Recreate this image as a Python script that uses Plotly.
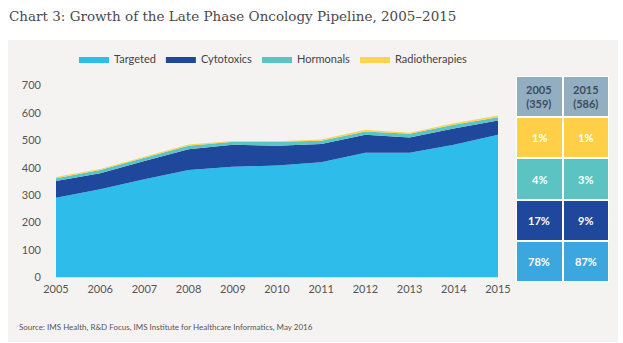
import plotly.graph_objects as go

W, H = 623, 343

years = [2005, 2006, 2007, 2008, 2009, 2010, 2011, 2012, 2013, 2014, 2015]
targeted = [291, 322, 358, 392, 404, 408, 420, 455, 455, 484, 520]
cytotoxics = [61, 58, 67, 76, 80, 72, 67, 65, 55, 59, 52]
hormonals = [10, 12, 12, 12, 11, 15, 12, 12, 14, 14, 12]
radiotherapies = [4, 4, 3, 5, 3, 2, 4, 7, 4, 5, 7]

series_names = ["Targeted", "Cytotoxics", "Hormonals", "Radiotherapies"]
series_colors = ["#2ebdeb", "#1f489d", "#5bc5c3", "#fdd34f"]

# summary table (rows from bottom to top)
table_cols = ["Y2005", "Y2015"]
table_header = ["2005<br>(359)", "2015<br>(586)"]
table_rows = ["Targeted", "Cytotoxics", "Hormonals", "Radiotherapies", "Total"]
share_2005 = ["78%", "17%", "4%", "1%"]
share_2015 = ["87%", "9%", "3%", "1%"]
row_colors = ["#3ca7de", "#1f489d", "#5bc4c2", "#fecf47", "#94aec1"]

def px(x):
    return x / W

def py(y):
    return 1 - y / H

fig = go.Figure()
for name, vals, col in zip(series_names, [targeted, cytotoxics, hormonals, radiotherapies], series_colors):
    fig.add_trace(go.Scatter(
        x=years, y=vals, name=name, stackgroup="one",
        mode="lines", line=dict(width=0, color=col), fillcolor=col,
        hoverinfo="x+y+name",
    ))

z = [[i, i] for i in range(len(table_rows))]
n = len(row_colors) - 1
colorscale = [[i / n, c] for i, c in enumerate(row_colors)]
fig.add_trace(go.Heatmap(
    x=table_cols, y=table_rows, z=z, zmin=0, zmax=n, colorscale=colorscale,
    showscale=False, xgap=2, ygap=2, xaxis="x2", yaxis="y2", hoverinfo="skip",
    showlegend=False,
))

annotations = [
    dict(text="Chart 3: Growth of the Late Phase Oncology Pipeline, 2005–2015",
         xref="paper", yref="paper", x=px(7), y=py(16), xanchor="left", yanchor="middle",
         showarrow=False, font=dict(family="DejaVu Serif", size=13.5, color="#4a4a4a")),
    dict(text="Source: IMS Health, R&D Focus, IMS Institute for Healthcare Informatics, May 2016",
         xref="paper", yref="paper", x=px(17), y=py(327), xanchor="left", yanchor="middle",
         showarrow=False, font=dict(family="Lato", size=8, color="#555")),
]
for col, head, shares in zip(table_cols, table_header, [share_2005, share_2015]):
    annotations.append(dict(text=f"<b>{head}</b>", x=col, y="Total", xref="x2", yref="y2",
                            showarrow=False, font=dict(family="Lato", size=11, color="#3b4d5e")))
    for row, s in zip(table_rows[:4], shares):
        annotations.append(dict(text=f"<b>{s}</b>", x=col, y=row, xref="x2", yref="y2",
                                showarrow=False, font=dict(family="Lato", size=11, color="white")))

fig.update_layout(
    width=W, height=H,
    margin=dict(l=0, r=0, t=0, b=0, autoexpand=False),
    paper_bgcolor="white",
    plot_bgcolor="rgba(0,0,0,0)",
    font=dict(family="Lato", size=11, color="#555"),
    showlegend=True,
    legend=dict(orientation="h", x=px(74), y=py(59), xanchor="left", yanchor="middle",
                font=dict(family="Lato", size=11, color="#444"), bgcolor="rgba(0,0,0,0)",
                traceorder="normal"),
    xaxis=dict(domain=[px(56), px(498)], range=[2005, 2015], tickvals=years,
               showgrid=False, zeroline=False, showline=False, ticks="", automargin=False,
               ticklabelstandoff=3, tickfont=dict(size=11, color="#555")),
    yaxis=dict(domain=[py(277.5), py(85.5)], range=[0, 700], dtick=100,
               showgrid=False, zeroline=False, showline=False, automargin=False,
               ticklabelstandoff=14, tickfont=dict(size=11, color="#555")),
    xaxis2=dict(domain=[px(516), px(609)], anchor="y2", type="category", showticklabels=False,
                showgrid=False, zeroline=False, showline=False, ticks="", automargin=False,
                fixedrange=True),
    yaxis2=dict(domain=[py(282), py(76)], anchor="x2", type="category", showticklabels=False,
                showgrid=False, zeroline=False, showline=False, ticks="", automargin=False,
                fixedrange=True),
    shapes=[
        dict(type="rect", xref="paper", yref="paper", x0=px(8), x1=px(618), y0=py(342), y1=py(40),
             fillcolor="#f4f3f2", line=dict(width=0), layer="below"),
        dict(type="rect", xref="x2 domain", yref="y2 domain", x0=0, x1=1, y0=0, y1=1,
             fillcolor="white", line=dict(width=0), layer="below"),
    ],
    annotations=annotations,
)

fig.write_html("out.html")
